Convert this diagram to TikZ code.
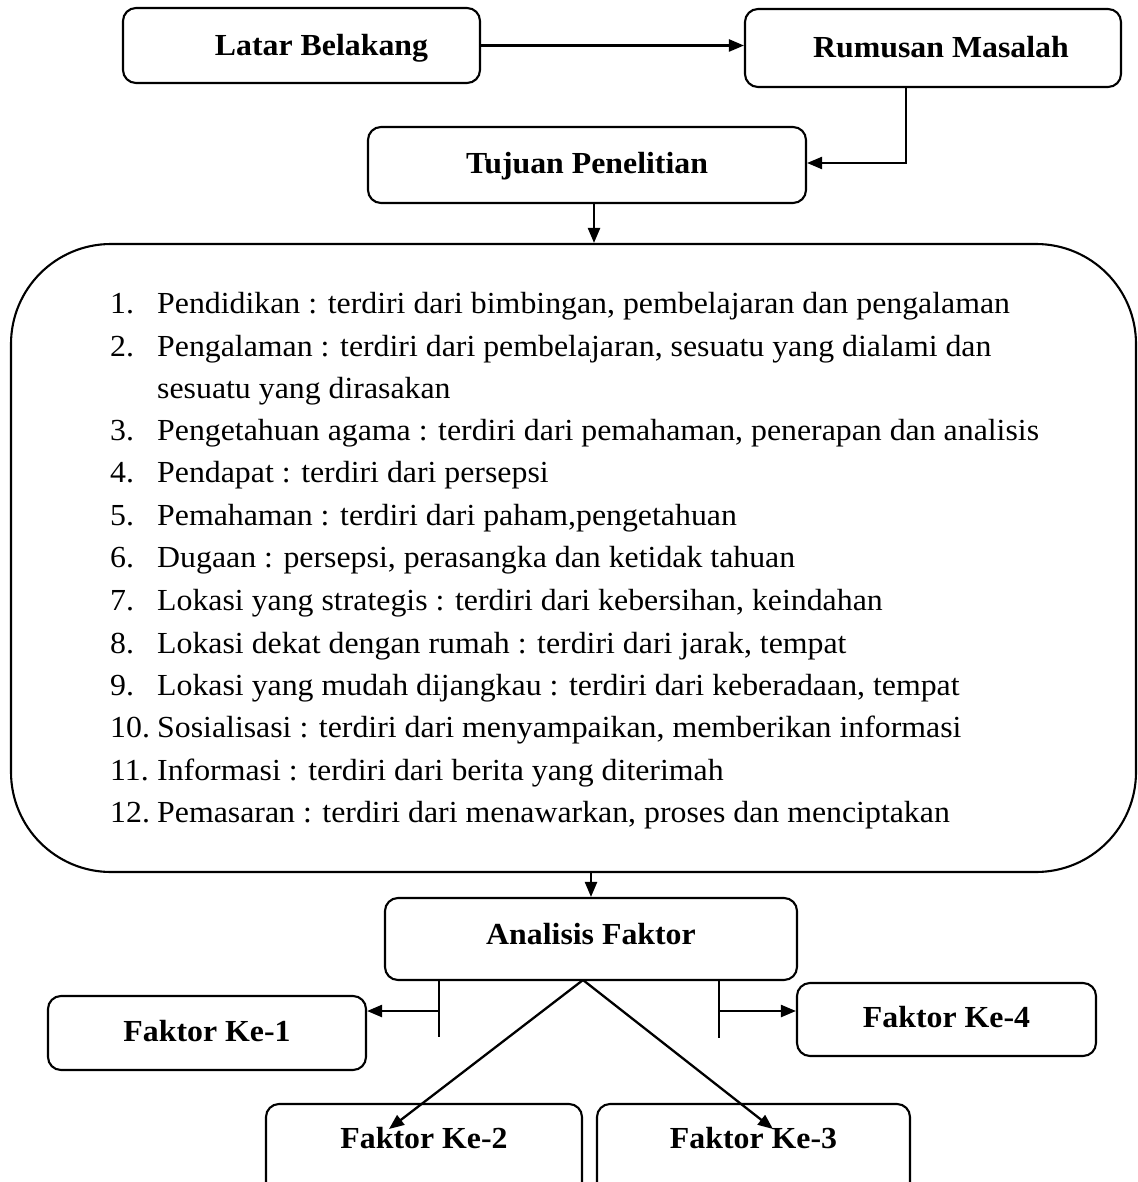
\documentclass[tikz,border=0pt]{standalone}
\usepackage{fontspec}
\setmainfont{Liberation Serif}[FakeStretch=1.04]
\usetikzlibrary{arrows.meta}
\begin{document}
\begin{tikzpicture}[x=1pt,y=-1pt,
  txt/.style={font=\fontsize{30.6}{42.4}\selectfont},
  btxt/.style={font=\fontsize{30.6}{42.4}\selectfont\bfseries},
  box/.style={draw, line width=2.1pt, rounded corners=13pt, inner sep=0pt},
  ln/.style={line width=2.1pt},
  arr/.style={line width=2.3pt, -{Triangle[length=15pt,width=12pt]}},
  itemnum/.style={txt, anchor=base west, inner sep=0pt},
  itemtxt/.style={txt, anchor=base west, inner sep=0pt}]
\useasboundingbox (0,0) rectangle (1137,1182);
\clip (0,0) rectangle (1137,1182);
% top boxes
\node[box, minimum width=357pt, minimum height=75pt,
  label={[btxt, xshift=20pt, yshift=-3pt]center:Latar Belakang}] (lb) at (301.5,45.5) {};
\node[box, minimum width=376pt, minimum height=78pt,
  label={[btxt, xshift=8pt, yshift=1pt]center:Rumusan Masalah}] (rm) at (933,48) {};
\node[box, minimum width=438pt, minimum height=76pt,
  label={[btxt, yshift=-1pt]center:Tujuan Penelitian}] (tp) at (587,165) {};
% big box
\node[draw, line width=2.1pt, rounded corners=100pt, minimum width=1125pt,
  minimum height=628pt, inner sep=0pt] (big) at (573.5,558) {};
% list
\foreach \yy/\nn/\tt in {
  313/1./{Pendidikan : terdiri dari bimbingan, pembelajaran dan pengalaman},
  356/2./{Pengalaman : terdiri dari pembelajaran, sesuatu yang dialami dan},
  398//{sesuatu yang dirasakan},
  440/3./{Pengetahuan agama : terdiri dari pemahaman, penerapan dan analisis},
  482/4./{Pendapat : terdiri dari persepsi},
  525/5./{Pemahaman : terdiri dari paham,pengetahuan},
  567/6./{Dugaan : persepsi, perasangka dan ketidak tahuan},
  610/7./{Lokasi yang strategis : terdiri dari kebersihan, keindahan},
  653/8./{Lokasi dekat dengan rumah : terdiri dari jarak, tempat},
  695/9./{Lokasi yang mudah dijangkau : terdiri dari keberadaan, tempat},
  737/10./{Sosialisasi : terdiri dari menyampaikan, memberikan informasi},
  780/11./{Informasi : terdiri dari berita yang diterimah},
  822/12./{Pemasaran : terdiri dari menawarkan, proses dan menciptakan}}
{
  \node[itemnum] (n\yy) at (110,\yy) {\nn};
  \node[itemtxt] (t\yy) at (157,\yy) {\tt};
}
% lower boxes
\node[box, minimum width=412pt, minimum height=82pt,
  label={[btxt, yshift=5pt]center:Analisis Faktor}] (af) at (591,939) {};
\node[box, minimum width=318pt, minimum height=74pt,
  label={[btxt, yshift=2pt]center:Faktor Ke-1}] (f1) at (207,1033) {};
\node[box, minimum width=299pt, minimum height=73pt,
  label={[btxt, yshift=2pt]center:Faktor Ke-4}] (f4) at (946.5,1019.5) {};
\node[box, minimum width=316pt, minimum height=106pt,
  label={[btxt, yshift=19pt]center:Faktor Ke-2}] (f2) at (424,1157) {};
\node[box, minimum width=313pt, minimum height=106pt,
  label={[btxt, yshift=19pt]center:Faktor Ke-3}] (f3) at (753.5,1157) {};
% connectors top
\draw[arr] (lb.east) -- (lb.east -| rm.west);
\draw[arr] ([xshift=-27pt]rm.south) |- ([yshift=2pt]tp.east);
\draw[arr] ([xshift=7pt]tp.south) -- ([xshift=7pt]tp.south |- big.north);
\draw[arr] (af.north |- big.south) -- (af.north);
% connectors bottom
\coordinate (jlt) at (439,980);
\coordinate (jlb) at (439,1037);
\coordinate (jl) at (439,1011);
\coordinate (jrt) at (719,980);
\coordinate (jrb) at (719,1038);
\coordinate (jr) at (719,1011);
\draw[ln] (jlt) -- (jlb);
\draw[arr] (jl) -- (jl -| f1.east);
\draw[ln] (jrt) -- (jrb);
\draw[arr] (jr) -- (jr -| f4.west);
\coordinate (apex) at (583,980);
\coordinate (d2) at (389,1129);
\coordinate (d3) at (773,1129);
\draw[arr] (apex) -- (d2);
\draw[arr] (apex) -- (d3);
\end{tikzpicture}
\end{document}
